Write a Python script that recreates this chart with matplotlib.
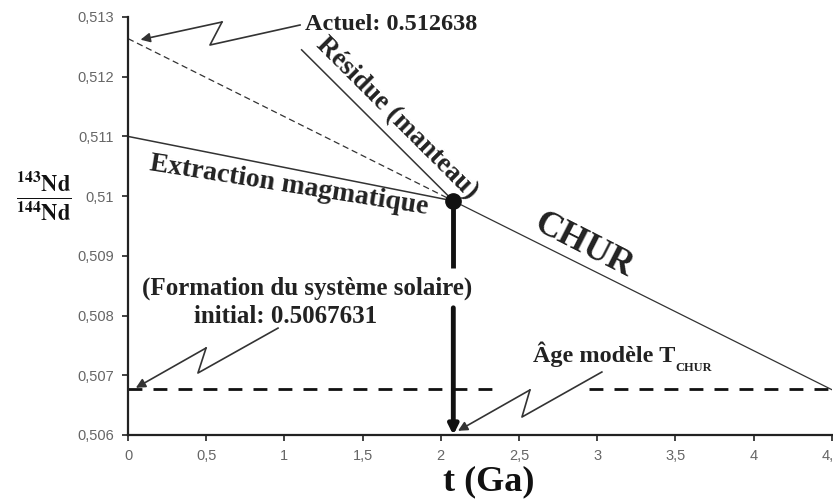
import matplotlib
matplotlib.use('Agg')
import matplotlib.pyplot as plt
from matplotlib.ticker import FuncFormatter

# données
chur_t = [0, 2.08, 4.5]
chur_nd = [0.512638, 0.50992, 0.50676]
extraction_t = [0, 2.08]
extraction_nd = [0.511, 0.50992]
residue_t = [1.11, 2.08]
residue_nd = [0.51245, 0.50992]
initial_nd = 0.5067631
t_model = 2.08
xticks = [0, 0.5, 1, 1.5, 2, 2.5, 3, 3.5, 4, 4.5]
yticks = [0.506, 0.507, 0.508, 0.509, 0.510, 0.511, 0.512, 0.513]

serif = 'Liberation Serif'
plt.rcParams['mathtext.fontset'] = 'stix'

fig = plt.figure(figsize=(8.33, 5), dpi=100)
ax = fig.add_axes([0.1537, 0.13, 0.8448, 0.836])

# CHUR : pointillé jusqu'au point, plein ensuite
ax.plot(chur_t[:2], chur_nd[:2], color='#333', lw=0.9, ls=(0, (5, 3)))
ax.plot(chur_t[1:], chur_nd[1:], color='#333', lw=0.9)
ax.plot(extraction_t, extraction_nd, color='#333', lw=1.1)
ax.plot(residue_t, residue_nd, color='#333', lw=1.1)

# ligne initiale (interrompue par la flèche)
ax.plot([0, 2.38], [initial_nd, initial_nd], color='#111', lw=2, ls=(0, (5, 4)))
ax.plot([2.95, 4.5], [initial_nd, initial_nd], color='#111', lw=2, ls=(0, (5, 4)))

# point et flèche verticale (coupée par le texte)
ax.plot([t_model, t_model], [chur_nd[1], 0.5088], color='#111', lw=3.5,
        solid_capstyle='butt')
ax.annotate('', xy=(t_model, 0.506), xytext=(t_model, 0.50813),
            arrowprops=dict(arrowstyle='-|>', lw=3.5, color='#111',
                            mutation_scale=14, shrinkA=0, shrinkB=0))
ax.plot([t_model], [chur_nd[1]], 'o', color='#111', ms=11)


def zigzag(pts):
    xs = [p[0] for p in pts[:-1]]
    ys = [p[1] for p in pts[:-1]]
    ax.plot(xs, ys, color='#333', lw=1.2)
    ax.annotate('', xy=pts[-1], xytext=pts[-2],
                arrowprops=dict(arrowstyle='-|>', lw=1.2, color='#333',
                                mutation_scale=14, shrinkA=0, shrinkB=0))


zigzag([(1.10, 0.512866), (0.524, 0.512531), (0.601, 0.512916), (0.08, 0.51262)])
zigzag([(0.959, 0.50779), (0.447, 0.507038), (0.499, 0.507457), (0.05, 0.50679)])
zigzag([(3.03, 0.507055), (2.519, 0.506301), (2.570, 0.506754), (2.11, 0.50607)])

bold = dict(family=serif, fontweight='bold', color='#222')
ax.text(1.13, 0.512875, 'Actuel: 0.512638', fontsize=17.5, va='center', ha='left', **bold)
ax.text(1.72, 0.51131, 'Résidue (manteau)', fontsize=19.5, rotation=-45,
        va='center', ha='center', rotation_mode='anchor', **bold)
ax.text(1.03, 0.51017, 'Extraction magmatique', fontsize=20, rotation=-9,
        va='center', ha='center', rotation_mode='anchor', **bold)
ax.text(2.91, 0.50918, 'CHUR', fontsize=26, rotation=-27,
        va='center', ha='center', rotation_mode='anchor', **bold)
ax.text(1.145, 0.50846, '(Formation du système solaire)', fontsize=18,
        va='center', ha='center', **bold)
ax.text(1.01, 0.50799, 'initial: 0.5067631', fontsize=18,
        va='center', ha='center', **bold)
tt = ax.text(2.59, 0.50722, 'Âge modèle T', fontsize=17.5, va='baseline', ha='left', **bold)
ax.annotate('CHUR', xy=(1, 0), xycoords=tt, xytext=(0, -3), textcoords='offset points',
            fontsize=9, va='baseline', ha='left', **bold)

# axes
ax.set_xlim(0, 4.5)
ax.set_ylim(0.506, 0.513)
ax.set_xticks(xticks)
ax.set_yticks(yticks)
fmt = FuncFormatter(lambda v, p: ('%g' % round(v, 4)).replace('.', ','))
ax.xaxis.set_major_formatter(fmt)
ax.yaxis.set_major_formatter(fmt)
for s in ['top', 'right']:
    ax.spines[s].set_visible(False)
for s in ['left', 'bottom']:
    ax.spines[s].set_linewidth(1.6)
    ax.spines[s].set_color('#222')
ax.tick_params(direction='out', length=4, width=1.2, color='#222',
               labelsize=10.5, labelcolor='#666', pad=6)
for lab in ax.get_xticklabels() + ax.get_yticklabels():
    lab.set_family('Liberation Sans')

ax.set_xlabel('t (Ga)', fontsize=26, family=serif, fontweight='bold', color='#111')
ax.xaxis.set_label_coords(0.513, -0.072)
fig.text(0.052, 0.606, r'$\mathbf{\frac{^{143}Nd}{^{144}Nd}}$', fontsize=23,
         ha='center', va='center', color='#111')

fig.savefig('out.png', dpi=100)
